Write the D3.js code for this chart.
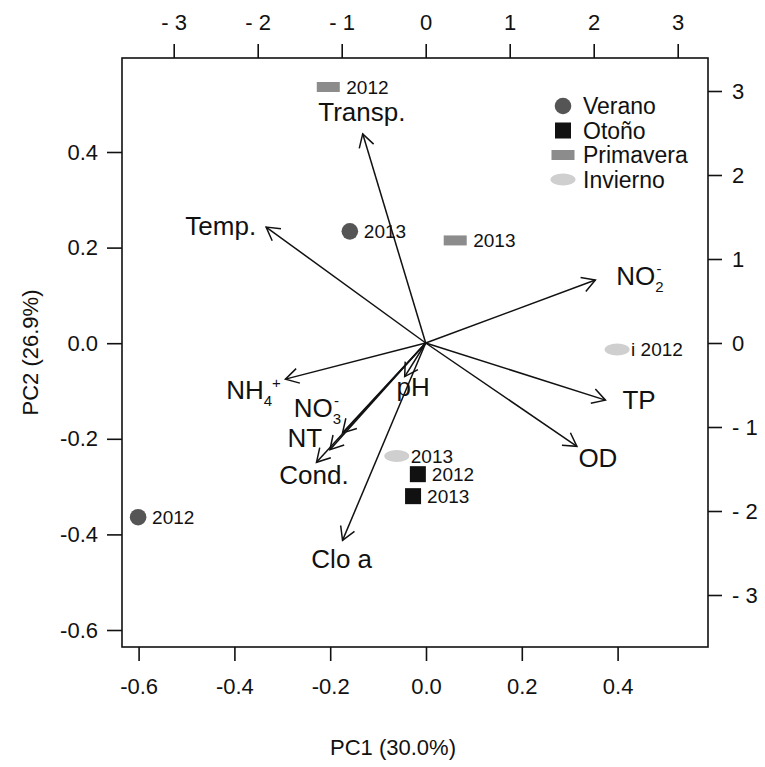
<!DOCTYPE html>
<html>
<head>
<meta charset="utf-8">
<script src="https://cdn.jsdelivr.net/npm/d3@7"></script>
<style>
  body { margin: 0; background: #fff; }
  text { font-family: "Liberation Sans", Arial, sans-serif; fill: #111; }
</style>
</head>
<body>
<div id="plot"></div>
<script>
// scores (PC1, PC2) per season and year
var seasons = ['Verano', 'Otoño', 'Primavera', 'Invierno'];
var seasonColors = ['#555555', '#111111', '#8c8c8c', '#cfcfcf'];
var pointSeason = ['Verano', 'Verano', 'Otoño', 'Otoño', 'Primavera', 'Primavera', 'Invierno', 'Invierno'];
var pointLabel = ['2012', '2013', '2012', '2013', '2012', '2013', 'i 2012', '2013'];
var pc1 = [-0.601, -0.159, -0.017, -0.027, -0.204, 0.061, 0.399, -0.061];
var pc2 = [-0.364, 0.234, -0.274, -0.320, 0.536, 0.215, -0.013, -0.236];

// loadings (arrow ends) and where their names sit
var vars = ['Transp.', 'Temp.', 'NO2-', 'TP', 'OD', 'NH4+', 'NO3-', 'NT', 'Cond.', 'pH', 'Clo a'];
var load1 = [-0.75, -1.90, 2.02, 2.14, 1.80, -1.67, -0.99, -1.14, -1.30, -0.25, -0.99];
var load2 = [2.49, 1.38, 0.75, -0.68, -1.23, -0.43, -1.07, -1.27, -1.42, -0.40, -2.35];
var lab1 = [-0.76, -2.44, 2.55, 2.54, 2.05, -2.05, -1.29, -1.44, -1.33, -0.15, -1.00];
var lab2 = [2.75, 1.39, 0.80, -0.68, -1.37, -0.56, -0.77, -1.13, -1.57, -0.52, -2.57];

var bottomTicks = [-0.6, -0.4, -0.2, 0.0, 0.2, 0.4];
var leftTicks = [-0.6, -0.4, -0.2, 0.0, 0.2, 0.4];
var loadTicks = [-3, -2, -1, 0, 1, 2, 3];

var box = {l:122, r:708, t:58, b:647};

var svg = d3.select('#plot')
	.append('svg')
	.attr('width', 765)
	.attr('height', 767);

var x = d3.scaleLinear().domain([-0.6, 0.4]).range([138.6, 617.6]);
var y = d3.scaleLinear().domain([-0.6, 0.4]).range([630, 152]);
var ax = d3.scaleLinear().domain([-3, 3]).range([173.7, 677.7]);
var ay = d3.scaleLinear().domain([-3, 3]).range([595, 91]);

var fmt = function(d){ return d3.format('.1f')(d).replace('\u2212', '-'); };
var fmtLoad = function(d){ return d < 0 ? '- ' + Math.abs(d) : String(d); };

function styleAxis(g, size){
	g.select('.domain').remove();
	g.selectAll('.tick line').attr('stroke', '#111').attr('stroke-width', 1.6);
	g.selectAll('.tick text').style('font-size', size + 'px').attr('fill', '#111');
}

svg.append('g')
	.attr('transform', 'translate(0,' + box.b + ')')
	.call(d3.axisBottom(x).tickValues(bottomTicks).tickFormat(fmt).tickSize(14).tickPadding(17))
	.call(styleAxis, 22);

svg.append('g')
	.attr('transform', 'translate(' + box.l + ',0)')
	.call(d3.axisLeft(y).tickValues(leftTicks).tickFormat(fmt).tickSize(15).tickPadding(9))
	.call(styleAxis, 22);

svg.append('g')
	.attr('transform', 'translate(0,' + box.t + ')')
	.call(d3.axisTop(ax).tickValues(loadTicks).tickFormat(fmtLoad).tickSize(14).tickPadding(14))
	.call(styleAxis, 22);

svg.append('g')
	.attr('transform', 'translate(' + box.r + ',0)')
	.call(d3.axisRight(ay).tickValues(loadTicks).tickFormat(fmtLoad).tickSize(14).tickPadding(10))
	.call(styleAxis, 22);

svg.append('rect')
	.attr('x', box.l).attr('y', box.t)
	.attr('width', box.r - box.l).attr('height', box.b - box.t)
	.attr('fill', 'none').attr('stroke', '#111').attr('stroke-width', 1.6);

// axis titles
svg.append('text')
	.attr('x', 393).attr('y', 755)
	.attr('text-anchor', 'middle')
	.style('font-size', '22px')
	.text('PC1 (30.0%)');

svg.append('text')
	.attr('transform', 'translate(38,' + (box.t + box.b) / 2 + ') rotate(-90)')
	.attr('text-anchor', 'middle')
	.style('font-size', '22px')
	.text('PC2 (26.9%)');

// symbols
function drawSymbol(g, season, cx, cy){
	var i = seasons.indexOf(season);
	var c = seasonColors[i];
	if (season === 'Verano') {
		g.append('circle').attr('cx', cx).attr('cy', cy).attr('r', 8.3).attr('fill', c);
	} else if (season === 'Otoño') {
		g.append('rect').attr('x', cx - 8).attr('y', cy - 8).attr('width', 16).attr('height', 16).attr('fill', c);
	} else if (season === 'Primavera') {
		g.append('rect').attr('x', cx - 11.5).attr('y', cy - 5).attr('width', 23).attr('height', 10).attr('fill', c);
	} else {
		g.append('ellipse').attr('cx', cx).attr('cy', cy).attr('rx', 12.5).attr('ry', 6).attr('fill', c);
	}
}

var pts = svg.append('g');
pc1.forEach(function(v, i){
	drawSymbol(pts, pointSeason[i], x(v), y(pc2[i]));
	pts.append('text')
		.attr('x', x(v) + (pointSeason[i] === 'Primavera' ? 18 : 14))
		.attr('y', y(pc2[i]))
		.attr('dy', '0.35em')
		.style('font-size', '19px')
		.text(pointLabel[i]);
});

// arrows
var arrows = svg.append('g');
var headLen = 15, headAng = Math.PI / 6;
vars.forEach(function(name, i){
	var x0 = ax(0), y0 = ay(0), x1 = ax(load1[i]), y1 = ay(load2[i]);
	var a = Math.atan2(y1 - y0, x1 - x0);
	arrows.append('line')
		.attr('x1', x0).attr('y1', y0).attr('x2', x1).attr('y2', y1)
		.attr('stroke', '#111').attr('stroke-width', 1.5);
	arrows.append('path')
		.attr('d', 'M' + (x1 - headLen * Math.cos(a - headAng)) + ',' + (y1 - headLen * Math.sin(a - headAng)) +
			'L' + x1 + ',' + y1 +
			'L' + (x1 - headLen * Math.cos(a + headAng)) + ',' + (y1 - headLen * Math.sin(a + headAng)))
		.attr('fill', 'none').attr('stroke', '#111').attr('stroke-width', 1.5);
});

// variable names, with chemical sub/superscripts
var chem = {
	'NO2-': ['NO', '2', '-'],
	'NH4+': ['NH', '4', '+'],
	'NO3-': ['NO', '3', '-']
};
vars.forEach(function(name, i){
	var t = svg.append('text')
		.attr('x', ax(lab1[i])).attr('y', ay(lab2[i]))
		.attr('dy', '0.35em')
		.attr('text-anchor', 'middle')
		.style('font-size', '26px');
	if (chem[name]) {
		var p = chem[name];
		t.append('tspan').text(p[0]);
		t.append('tspan').attr('dy', 7).style('font-size', '15px').text(p[1]);
		t.append('tspan').attr('dy', -18).attr('dx', name === 'NH4+' ? 0 : -7).style('font-size', '15px').text(p[2]);
	} else {
		t.text(name);
	}
});

// legend
var leg = svg.append('g');
seasons.forEach(function(s, i){
	var ly = 106 + i * 24.5;
	drawSymbol(leg, s, 563, ly);
	leg.append('text')
		.attr('x', 583).attr('y', ly)
		.attr('dy', '0.35em')
		.style('font-size', '23px')
		.text(s);
});
</script>
</body>
</html>
